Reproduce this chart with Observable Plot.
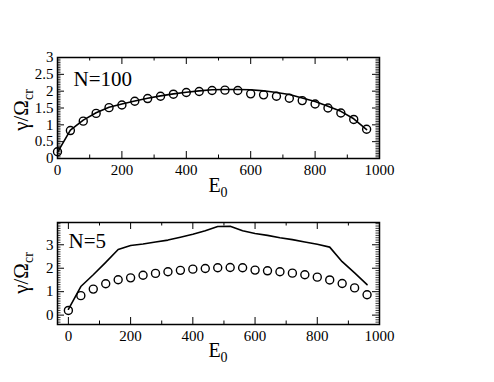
<!DOCTYPE html>
<html><head><meta charset="utf-8">
<script src="https://cdn.jsdelivr.net/npm/d3@7"></script>
<script src="https://cdn.jsdelivr.net/npm/@observablehq/plot@0.6"></script>
<style>
body{margin:0;background:#fff;}
#wrap{position:relative;width:494px;height:382px;overflow:hidden;font-family:'Liberation Serif',serif;color:#000;}
.panel{position:absolute;left:0;}
.xlab{position:absolute;left:118px;width:200px;text-align:center;font-family:'Liberation Serif',serif;font-size:20px;line-height:20px;white-space:nowrap;}
.ylab{position:absolute;width:90px;height:20px;line-height:20px;text-align:center;font-family:'Liberation Serif',serif;font-size:21px;white-space:nowrap;transform:rotate(-90deg);transform-origin:50% 50%;}
.sub{font-size:14px;position:relative;top:5px;}
</style></head><body><div id="wrap"></div>
<script>
// Data
const E0 = [0,40,80,120,160,200,240,280,320,360,400,440,480,520,560,600,640,680,720,760,800,840,880,920,960];
const gammaCircles = [0.20,0.83,1.11,1.34,1.51,1.59,1.70,1.78,1.85,1.91,1.96,1.99,2.02,2.03,2.02,1.92,1.89,1.85,1.79,1.72,1.62,1.50,1.35,1.16,0.87];
const gammaN100 = [0.18,0.84,1.14,1.36,1.52,1.62,1.71,1.79,1.86,1.92,1.97,2.01,2.04,2.05,2.05,2.04,2.01,1.96,1.90,1.80,1.69,1.55,1.40,1.18,0.86];
const gammaN5 = [0.25,1.22,1.72,2.25,2.80,2.97,3.03,3.12,3.20,3.32,3.45,3.60,3.78,3.79,3.60,3.48,3.40,3.30,3.22,3.12,3.02,2.90,2.28,1.80,1.30];
const panelLabels = ["N=100","N=5"];
const xMajor = [0,200,400,600,800,1000];
const xMinor = [100,300,500,700,900];
const yMajorTop = [0,0.5,1,1.5,2,2.5,3];
const yMajorBottom = [0,1,2,3];

const FONT = "'Liberation Serif', serif";
const W = 494, ML = 57, MR = 115;
const iw = W - ML - MR;

function panel({top, height, mt, mb, xDomain, yDomain, yMajor, yMinorStep, line, label, labelDx, labelDy}) {
  const ih = height - mt - mb;
  const circ = E0.map((e,i)=>({e, g: gammaCircles[i]}));
  const ln = E0.map((e,i)=>({e, g: line[i]}));
  const yMinor = d3.range(Math.ceil(yDomain[0]/yMinorStep), Math.floor(yDomain[1]/yMinorStep)+1).map(k => +(k*yMinorStep).toFixed(3)).filter(v => !yMajor.some(m => Math.abs(m - v) < 1e-6));
  const maj = 7, mnr = 3.5;
  const svg = Plot.plot({
    width: W, height, marginLeft: ML, marginRight: MR, marginTop: mt, marginBottom: mb,
    style: {fontFamily: FONT, fontSize: "15px", color: "#000", background: "transparent"},
    x: {domain: xDomain},
    y: {domain: yDomain},
    marks: [
      Plot.ruleX(xMajor, {insetTop: ih - maj, stroke: "#000"}),
      Plot.ruleX(xMajor, {insetBottom: ih - maj, stroke: "#000"}),
      Plot.ruleX(xMinor, {insetTop: ih - mnr, stroke: "#000"}),
      Plot.ruleX(xMinor, {insetBottom: ih - mnr, stroke: "#000"}),
      Plot.ruleY(yMajor, {insetRight: iw - maj, stroke: "#000"}),
      Plot.ruleY(yMajor, {insetLeft: iw - maj, stroke: "#000"}),
      Plot.ruleY(yMinor, {insetRight: iw - mnr, stroke: "#000", strokeWidth: 0.8}),
      Plot.ruleY(yMinor, {insetLeft: iw - mnr, stroke: "#000", strokeWidth: 0.8}),
      Plot.axisX(xMajor, {tickSize: 0, tickPadding: 6, label: null, tickFormat: d => String(d), fontSize: 15}),
      Plot.axisY(yMajor, {tickSize: 0, tickPadding: 4, label: null, tickFormat: d => String(d), fontSize: 15}),
      Plot.line(ln, {x: "e", y: "g", stroke: "#000", strokeWidth: 1.6}),
      Plot.dot(circ, {x: "e", y: "g", r: 4, stroke: "#000", strokeWidth: 1.4, fill: "none"}),
      Plot.text([label], {frameAnchor: "top-left", text: d => d, dx: labelDx, dy: labelDy, textAnchor: "start", lineAnchor: "bottom", fontSize: 21}),
      Plot.frame({stroke: "#000", strokeWidth: 1.5})
    ]
  });
  svg.classList.add("panel");
  svg.style.top = top + "px";
  return svg;
}

const wrap = document.getElementById("wrap");
wrap.appendChild(panel({top: 0, height: 200, mt: 57, mb: 42, xDomain: [0,1000], yDomain: [0,3], yMajor: yMajorTop, yMinorStep: 0.05, line: gammaN100, label: panelLabels[0], labelDx: 16, labelDy: 28}));
wrap.appendChild(panel({top: 200, height: 182, mt: 22, mb: 58, xDomain: [-35,1000], yDomain: [-0.4,3.95], yMajor: yMajorBottom, yMinorStep: 0.1, line: gammaN5, label: panelLabels[1], labelDx: 11, labelDy: 25}));

function addHTML(html){ const d = document.createElement("div"); d.innerHTML = html; wrap.appendChild(d.firstElementChild); }
addHTML('<div class="xlab" style="top:175px">E<span class="sub">0</span></div>');
addHTML('<div class="xlab" style="top:340px">E<span class="sub">0</span></div>');
addHTML('<div class="ylab" style="left:-24px;top:100px">γ/Ω<span class="sub">cr</span></div>');
addHTML('<div class="ylab" style="left:-24px;top:263px">γ/Ω<span class="sub">cr</span></div>');
</script>
</body></html>
